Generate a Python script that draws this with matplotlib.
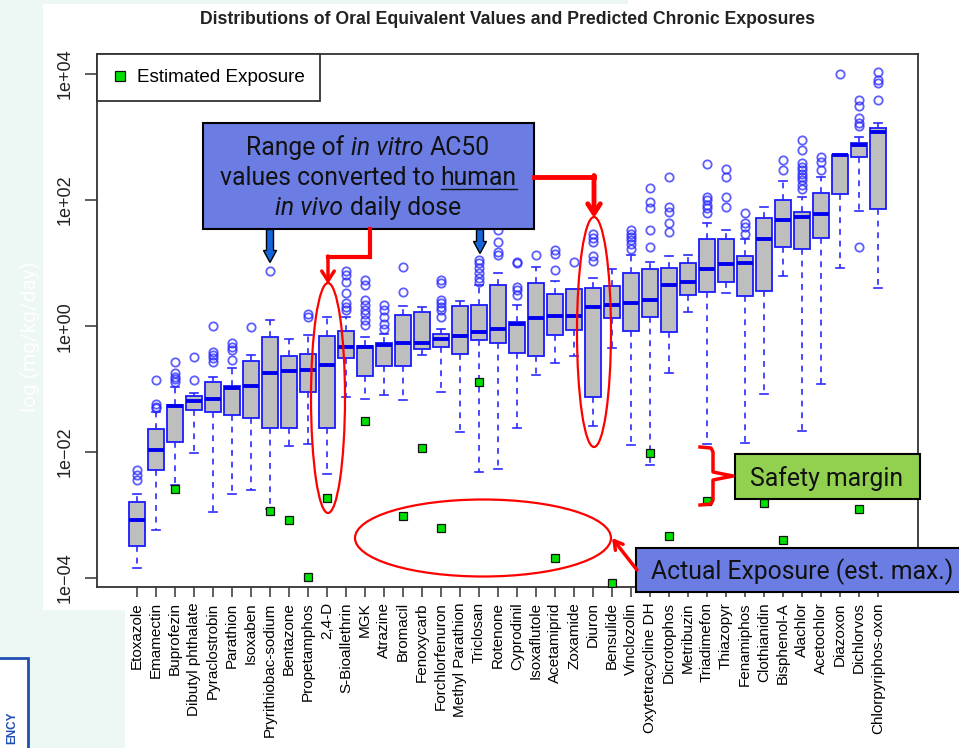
import numpy as np
import matplotlib
matplotlib.use("Agg")
import matplotlib.pyplot as plt
from matplotlib.patches import Ellipse, Rectangle, FancyArrow
from matplotlib.ticker import NullLocator

plt.rcParams['font.family'] = ['Liberation Sans', 'DejaVu Sans']

# ---- data (log10 mg/kg/day) ----
chemicals = ["Etoxazole", "Emamectin", "Buprofezin", "Dibutyl phthalate", "Pyraclostrobin",
             "Parathion", "Isoxaben", "Pryrithiobac-sodium", "Bentazone", "Propetamphos",
             "2,4-D", "S-Bioallethrin", "MGK", "Atrazine", "Bromacil", "Fenoxycarb",
             "Forchlorfenuron", "Methyl Parathion", "Triclosan", "Rotenone", "Cyprodinil",
             "Isoxaflutole", "Acetamiprid", "Zoxamide", "Diuron", "Bensulide", "Vinclozolin",
             "Oxytetracycline DH", "Dicrotophos", "Metribuzin", "Triadimefon", "Thiazopyr",
             "Fenamiphos", "Clothianidin", "Bisphenol-A", "Alachlor", "Acetochlor",
             "Diazoxon", "Dichlorvos", "Chlorpyriphos-oxon"]

whisk_lo = [-3.84, -3.23, -2.52, -2.02, -2.95, -2.67, -2.60, -2.90, -1.90, -1.87,
            -2.35, -1.13, -1.15, -1.10, -1.17, -0.46, -1.04, -1.68, -2.32, -2.26,
            -1.61, -0.77, -0.58, -0.48, -1.59, -0.35, -1.89, -2.20, -0.74, 0.23,
            -1.87, 0.52, -1.85, -1.08, 0.79, -1.67, -0.91, 0.93, 1.83, 0.61]
q1 = [-3.49, -2.29, -1.84, -1.33, -1.36, -1.41, -1.45, -1.62, -1.62, -1.04,
      -1.61, -0.50, -0.79, -0.63, -0.63, -0.37, -0.33, -0.44, -0.22, -0.27,
      -0.43, -0.48, -0.14, -0.06, -1.13, 0.13, -0.08, 0.15, -0.10, 0.49,
      0.54, 0.70, 0.48, 0.56, 1.26, 1.22, 1.40, 2.10, 2.68, 1.86]
median = [-3.08, -1.97, -1.27, -1.19, -1.16, -0.98, -0.95, -0.74, -0.71, -0.70,
          -0.62, -0.33, -0.33, -0.30, -0.27, -0.27, -0.20, -0.16, -0.09, -0.04,
          0.03, 0.13, 0.16, 0.16, 0.30, 0.33, 0.36, 0.42, 0.65, 0.70,
          0.90, 0.98, 1.00, 1.38, 1.69, 1.73, 1.78, 2.71, 2.87, 3.08]
q3 = [-2.79, -1.64, -1.25, -1.11, -0.89, -0.95, -0.55, -0.17, -0.48, -0.44,
      -0.15, -0.08, -0.32, -0.27, 0.17, 0.23, -0.12, 0.32, 0.34, 0.65,
      0.07, 0.68, 0.51, 0.59, 0.61, 0.64, 0.85, 0.90, 0.93, 1.01,
      1.38, 1.38, 1.11, 1.71, 2.00, 1.81, 2.11, 2.71, 2.90, 3.14]
whisk_hi = [-2.66, -1.36, -0.96, -1.06, -0.80, -0.67, -0.46, 0.10, -0.20, -0.14,
            0.14, 0.15, -0.17, -0.12, 0.32, 0.31, -0.05, 0.40, 0.65, 0.84,
            0.33, 0.94, 0.72, 0.59, 0.76, 0.90, 1.13, 1.02, 1.11, 1.13,
            1.63, 1.52, 1.39, 1.89, 2.30, 2.05, 2.37, 2.71, 3.00, 3.23]
outliers = [[-2.29, -2.37, -2.44], [-0.86, -1.23, -1.28, -1.30],
            [-0.57, -0.75, -0.80, -0.84, -0.88], [-0.86, -0.49],
            [0.0, -0.41, -0.46, -0.51, -0.57], [-0.27, -0.33, -0.38, -0.53],
            [-0.01], [0.88], [], [0.20, 0.15], [],
            [0.88, 0.81, 0.70, 0.52, 0.36, 0.31, 0.25],
            [0.73, 0.65, 0.41, 0.33, 0.25, 0.20, 0.10, 0.02],
            [0.33, 0.25, 0.15, 0.04, -0.04], [0.94, 0.54], [],
            [0.73, 0.68, 0.41, 0.36, 0.31, 0.25, 0.15], [],
            [1.05, 1.00, 0.92, 0.84, 0.76, 0.70], [1.13, 1.18, 1.34, 1.52],
            [1.02, 1.00, 0.62, 0.57, 0.49], [1.13], [1.21, 1.15, 0.89], [1.02],
            [1.47, 1.40, 1.34, 1.12, 1.04], [], [1.52, 1.47, 1.42, 1.37, 1.31, 1.23],
            [2.19, 1.97, 1.87, 1.53, 1.26], [2.37, 1.89, 1.81, 1.63, 1.50], [],
            [2.58, 2.05, 2.00, 1.92, 1.87, 1.79], [2.50, 2.37, 2.05, 1.89],
            [1.79, 1.63, 1.58, 1.47], [], [2.63, 2.48],
            [2.95, 2.80, 2.59, 2.53, 2.48, 2.42, 2.37, 2.32, 2.24, 2.18],
            [2.69, 2.61, 2.48], [4.00], [3.59, 3.49, 3.30, 3.23, 3.17, 1.26],
            [4.04, 3.90, 3.86, 3.59]]
exposure = [None, None, -2.59, None, None, None, None, -2.94, -3.08, -3.98,
            -2.72, None, -1.51, None, -3.01, -1.93, -3.21, None, -0.88, None,
            None, None, -3.68, None, None, -4.08, None, -2.02, -3.33, None,
            -2.78, None, None, -2.80, -3.40, None, None, None, -2.90, None]

ytick_vals = [1e-4, 1e-2, 1e0, 1e2, 1e4]
ytick_labels = ["1e\u221204", "1e\u221202", "1e+00", "1e+02", "1e+04"]

title = "Distributions of Oral Equivalent Values and Predicted Chronic Exposures"

W, H = 959, 748
fig = plt.figure(figsize=(W / 100, H / 100), dpi=100, facecolor='white')

# slide background pieces
bg = fig.add_axes([0, 0, 1, 1], zorder=0)
bg.set_xlim(0, W)
bg.set_ylim(H, 0)
bg.axis('off')
mint = '#edf7f4'
bg.add_patch(Rectangle((0, 0), 43, H, fc=mint, ec='none'))
bg.add_patch(Rectangle((43, 0), 585, 4, fc=mint, ec='none'))
bg.add_patch(Rectangle((0, 610), 125, H - 610, fc=mint, ec='none'))
bg.add_patch(Rectangle((-3, 658), 31, 100, fc='white', ec='#1f4fb0', lw=2))
bg.text(12, 728, "ENCY", rotation=90, color='#1f4fb0', fontsize=8.5,
        weight='bold', ha='center', va='center')
bg.text(30, 337, "log (mg/kg/day)", rotation=90, color='white', fontsize=15,
        ha='center', va='center', family='Roboto')

# ---- main boxplot ----
ax = fig.add_axes([97 / W, 1 - 587 / H, (918 - 97) / W, (587 - 54) / H], zorder=1)
x = np.arange(1, len(chemicals) + 1)

stats = []
for i in range(len(chemicals)):
    stats.append(dict(whislo=10 ** whisk_lo[i], q1=10 ** q1[i], med=10 ** median[i],
                      q3=10 ** q3[i], whishi=10 ** whisk_hi[i],
                      fliers=10 ** np.array(outliers[i], dtype=float)))

ax.set_yscale('log')
ax.bxp(stats, positions=x, widths=0.8, capwidths=0.42, patch_artist=True,
       boxprops=dict(facecolor='#bebebe', edgecolor='#1a1aff', linewidth=1.3),
       medianprops=dict(color='#0000ee', linewidth=2.8, solid_capstyle='butt'),
       whiskerprops=dict(color='#2a2aff', linewidth=1.2, linestyle=(0, (3.5, 3.5))),
       capprops=dict(color='#2a2aff', linewidth=1.2),
       flierprops=dict(marker='o', markerfacecolor='none', markeredgecolor='#2828ff',
                       markersize=6, markeredgewidth=1.3, alpha=0.75))

exp_x = [x[i] for i in range(len(x)) if exposure[i] is not None]
exp_y = [10 ** exposure[i] for i in range(len(x)) if exposure[i] is not None]
ax.plot(exp_x, exp_y, 's', ls='none', mfc='#00e000', mec='#111111', ms=6, mew=0.9,
        label='Estimated Exposure', zorder=5)

ax.set_xlim(-1.1, 42.1)
ax.set_ylim(10 ** -4.14, 10 ** 4.32)
ax.set_xticks(x)
ax.set_xticklabels(chemicals, rotation=90, fontsize=11, color='#000000')
ax.set_yticks(ytick_vals)
ax.set_yticklabels(ytick_labels, rotation=90, va='center', fontsize=13, color='#222222')
ax.yaxis.set_minor_locator(NullLocator())
ax.tick_params(axis='x', length=7, width=1.1, pad=4, color='#333333')
ax.tick_params(axis='y', length=8.5, width=1.1, pad=8, color='#333333')
for s in ax.spines.values():
    s.set_color('#333333')
    s.set_linewidth(1.3)

leg = ax.legend(loc='upper left', borderaxespad=0, fancybox=False, framealpha=1,
                edgecolor='#333333', fontsize=13.6, handlelength=0.8, handletextpad=0.5,
                borderpad=0.8, markerscale=1.1)
leg.get_frame().set_linewidth(1.3)

fig.text(507 / W, 1 - 20 / H, title, ha='center', va='center', fontsize=12.7,
         weight='bold', color='#222222')

# ---- annotations overlay, in pixel units ----
ov = fig.add_axes([0, 0, 1, 1], zorder=3)
ov.set_xlim(0, W)
ov.set_ylim(H, 0)
ov.axis('off')
ov.patch.set_alpha(0)

renderer = fig.canvas.get_renderer()
afont = 'Roboto'
asize = 17.8


def text_width(s, style):
    t = ov.text(0, 0, s, fontsize=asize, family=afont, style=style)
    w = t.get_window_extent(renderer).width
    t.remove()
    return w


def rich_line(cx, base, parts):
    space = text_width("n n", 'normal') - text_width("nn", 'normal')
    widths = [text_width(s, st) for s, st, _ in parts]
    total = sum(widths) + space * (len(parts) - 1)
    xx = cx - total / 2
    for (s, st, ul), w in zip(parts, widths):
        ov.text(xx, base, s, fontsize=asize, family=afont, style=st,
                ha='left', va='baseline', color='#111111')
        if ul:
            ov.plot([xx, xx + w], [base + 3.5, base + 3.5], color='#111111', lw=1)
        xx += w + space


# blue description box
ov.add_patch(Rectangle((203, 123), 331, 106, fc='#6b7de3', ec='black', lw=1.5))
rich_line(368, 155, [("Range of", 'normal', False), ("in vitro", 'italic', False),
                     ("AC50", 'normal', False)])
rich_line(368, 185, [("values converted to", 'normal', False), ("human", 'normal', True)])
rich_line(368, 215, [("in vivo", 'italic', False), ("daily dose", 'normal', False)])

for ax_x, length in [(270, 33), (480, 24)]:
    ov.add_patch(FancyArrow(ax_x, 229.5, 0, length, width=7, head_width=13,
                            head_length=12, length_includes_head=True,
                            fc='#1565d8', ec='black', lw=1))

# red connectors
ov.plot([370, 370, 328], [229, 257, 257], color='red', lw=3, solid_joinstyle='miter')
ov.annotate('', xy=(328, 284), xytext=(328, 256),
            arrowprops=dict(arrowstyle='->,head_length=0.7,head_width=0.45',
                            color='red', lw=2.5, shrinkA=0, shrinkB=0))
ov.plot([534, 594], [177, 177], color='red', lw=3.5)
ov.annotate('', xy=(594, 218), xytext=(594, 175.5),
            arrowprops=dict(arrowstyle='->,head_length=0.7,head_width=0.45',
                            color='red', lw=3.5, shrinkA=0, shrinkB=0))

# ellipses
ov.add_patch(Ellipse((328, 398), 34, 230, fill=False, ec='red', lw=1.6))
ov.add_patch(Ellipse((594, 332), 34, 230, fill=False, ec='red', lw=1.6))
ov.add_patch(Ellipse((483, 538), 256, 77, fill=False, ec='red', lw=1.6))

# safety margin
ov.plot([700, 711, 713, 713, 733, 713, 713, 711, 700],
        [447, 448, 452, 472, 476, 480, 500, 504, 505], color='red', lw=2.5)
ov.add_patch(Rectangle((735, 454), 185, 45, fc='#92d050', ec='black', lw=1.5))
ov.text(827, 485.5, "Safety margin", fontsize=asize, family=afont, ha='center',
        va='baseline', color='#111111')

# actual exposure
ov.annotate('', xy=(612, 538), xytext=(637, 570),
            arrowprops=dict(arrowstyle='->,head_length=0.6,head_width=0.35',
                            color='red', lw=2.5, shrinkA=0, shrinkB=0))
ov.add_patch(Rectangle((636, 548), 340, 44, fc='#6b7de3', ec='black', lw=1.5))
ov.text(651, 579.5, "Actual Exposure (est. max.)", fontsize=asize, family=afont,
        ha='left', va='baseline', color='#111111')

fig.savefig("out.png", dpi=100, facecolor=fig.get_facecolor())
